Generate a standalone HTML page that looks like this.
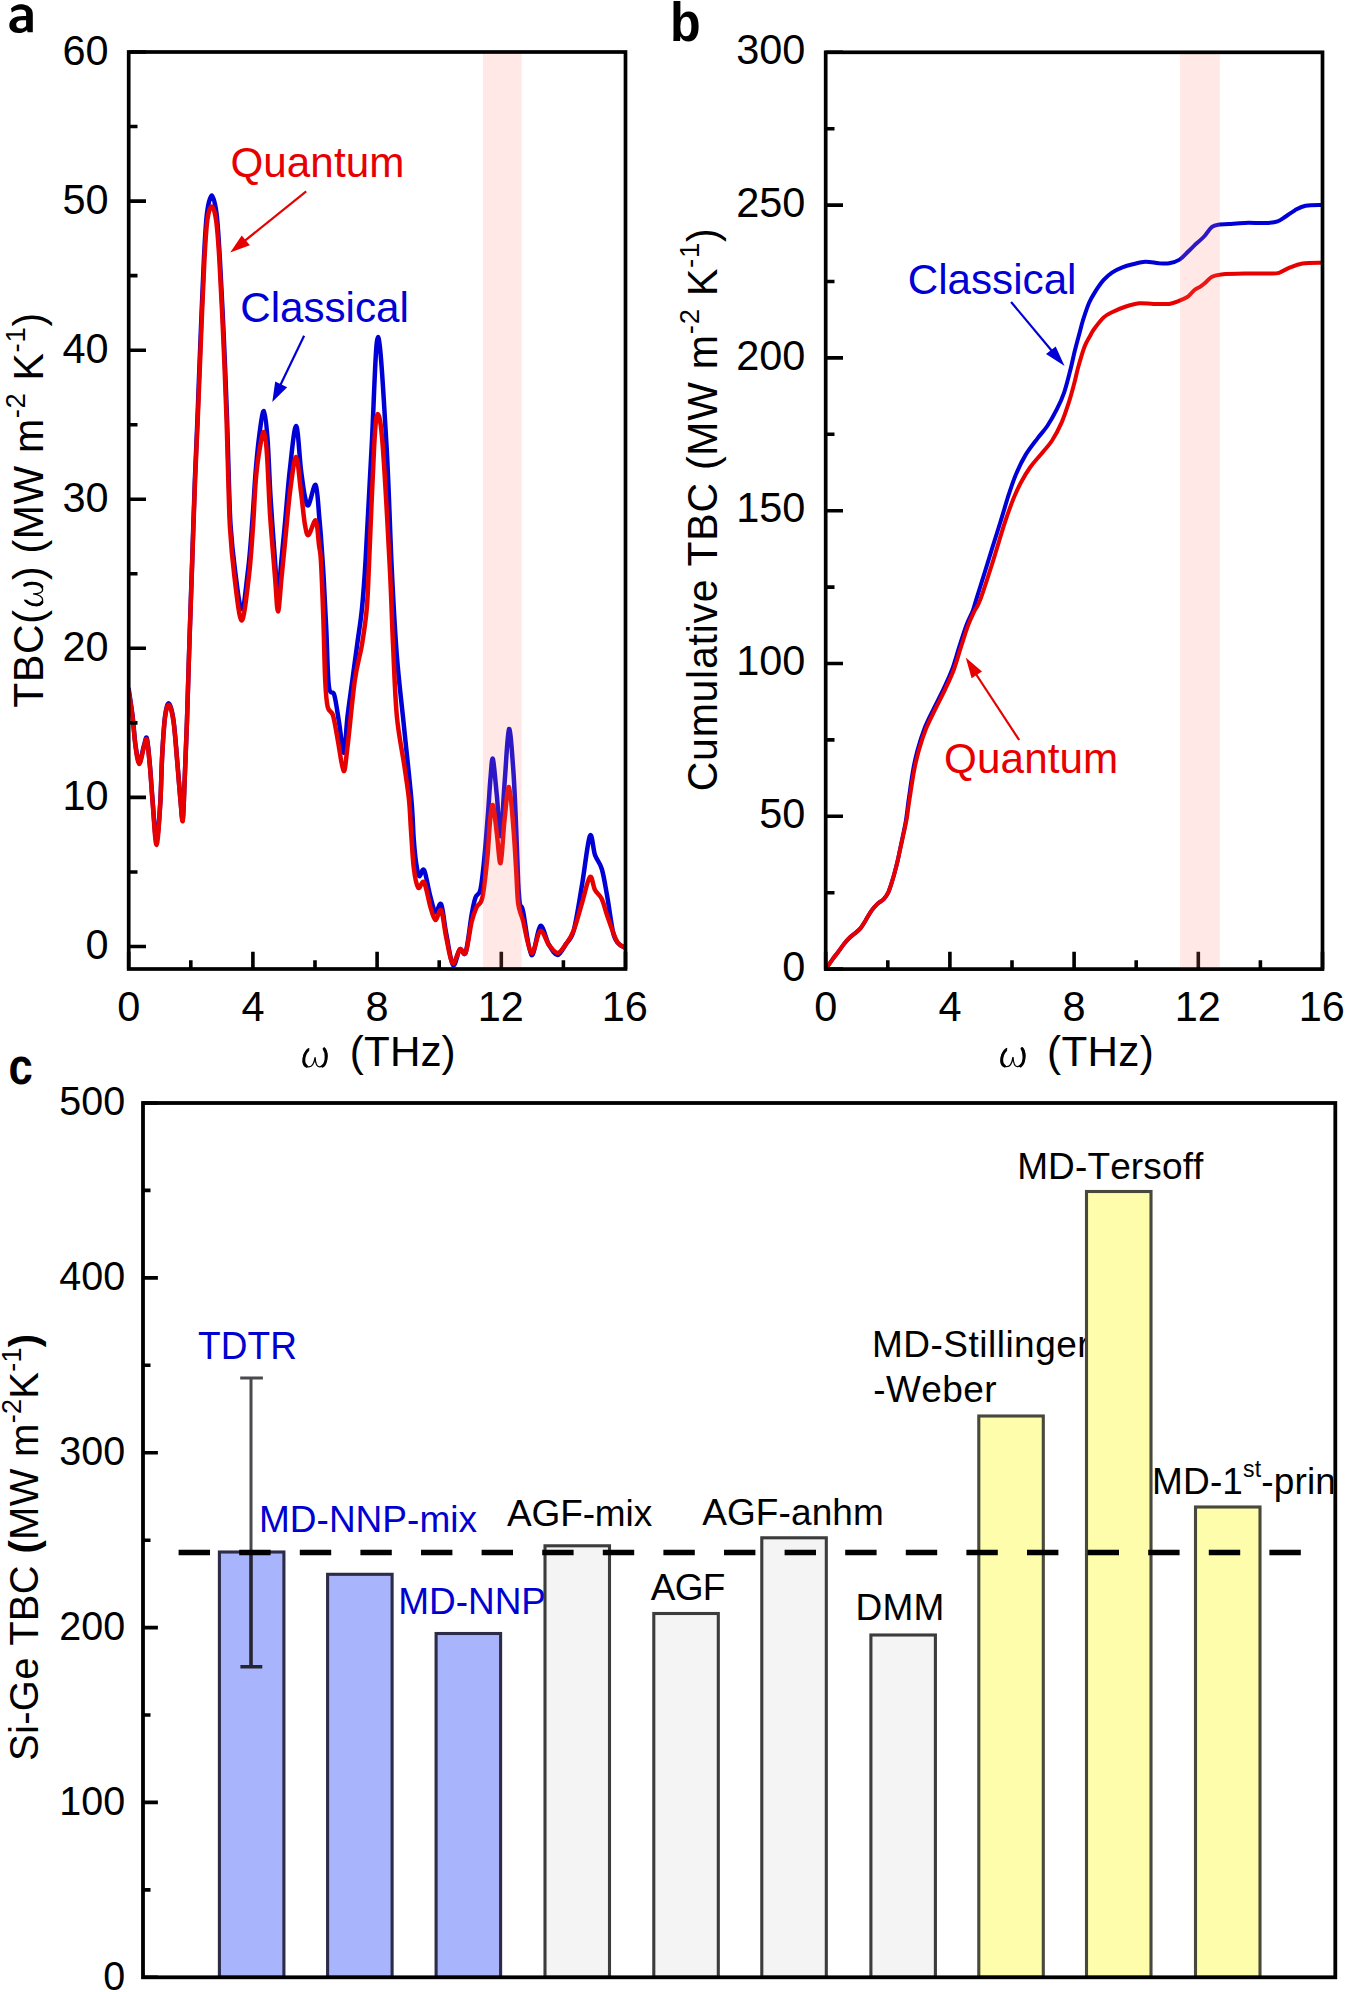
<!DOCTYPE html><html><head><meta charset="utf-8"><style>html,body{margin:0;padding:0;background:#fff;}svg{display:block;font-kerning:none;}text{font-family:"Liberation Sans",sans-serif}</style></head><body>
<svg width="1346" height="1992" viewBox="0 0 1346 1992">
<rect width="1346" height="1992" fill="#fff"/>
<defs><clipPath id="cpa"><rect x="128.7" y="52.0" width="496.8" height="917.0"/></clipPath>
<clipPath id="cpb"><rect x="825.7" y="52.3" width="496.8" height="916.8"/></clipPath>
<clipPath id="cpc"><rect x="143.0" y="1103.0" width="1190.3" height="874.3"/></clipPath></defs>
<g clip-path="url(#cpa)">
<path d="M128.7,689.0 C129.3,693.5 131.5,706.7 132.6,716.0 C133.7,725.3 134.4,737.2 135.5,745.0 C136.6,752.8 137.9,762.5 139.3,762.5 C140.7,762.5 142.8,749.0 144.1,745.0 C145.4,741.0 145.9,735.3 146.9,738.5 C147.9,741.7 148.8,753.4 149.8,764.0 C150.8,774.6 151.6,789.2 152.7,802.0 C153.8,814.8 155.2,840.5 156.5,840.5 C157.8,840.5 159.4,816.3 160.3,802.0 C161.2,787.7 161.4,768.8 162.2,754.5 C163.0,740.2 163.9,725.0 165.0,716.5 C166.1,708.0 167.5,702.8 168.9,703.5 C170.3,704.2 172.2,710.9 173.6,721.0 C175.0,731.1 176.4,751.2 177.5,764.0 C178.6,776.8 179.4,788.2 180.3,797.5 C181.2,806.8 182.0,821.8 182.7,819.5 C183.4,817.2 183.8,800.6 184.5,784.0 C185.2,767.4 186.2,744.1 187.0,720.0 C187.8,695.9 188.6,666.4 189.5,639.6 C190.4,612.8 191.3,586.1 192.2,559.3 C193.1,532.5 194.0,502.2 194.9,479.0 C195.8,455.8 196.5,443.2 197.4,420.0 C198.3,396.8 199.4,366.4 200.5,339.6 C201.6,312.8 202.8,280.2 203.9,259.3 C205.0,238.4 205.6,224.6 206.9,214.0 C208.2,203.4 210.2,195.5 211.8,195.5 C213.4,195.5 215.2,203.4 216.6,214.0 C217.9,224.6 218.7,238.4 219.9,259.3 C221.1,280.2 222.7,312.8 223.9,339.6 C225.1,366.4 226.3,396.8 227.1,420.0 C227.9,443.2 228.2,461.3 228.8,479.0 C229.4,496.7 229.6,510.8 230.6,526.0 C231.6,541.2 233.2,556.2 235.0,570.0 C236.8,583.8 239.5,609.3 241.7,609.0 C243.9,608.7 246.5,582.8 248.3,568.0 C250.1,553.2 251.2,535.5 252.4,520.0 C253.6,504.5 254.3,489.0 255.4,475.0 C256.5,461.0 257.8,446.7 259.2,436.0 C260.6,425.3 262.5,410.3 263.9,411.0 C265.3,411.7 266.5,425.2 267.6,440.0 C268.7,454.8 269.4,479.2 270.7,500.0 C272.0,520.8 274.1,548.3 275.3,565.0 C276.5,581.7 277.1,600.0 278.0,600.0 C278.9,600.0 279.9,577.5 281.0,565.0 C282.1,552.5 283.3,540.8 284.8,525.0 C286.3,509.2 287.9,486.5 289.8,470.0 C291.7,453.5 294.2,426.0 296.1,426.0 C298.0,426.0 299.5,458.2 301.0,470.0 C302.5,481.8 303.7,491.2 305.0,497.0 C306.3,502.8 306.8,507.0 308.6,505.0 C310.4,503.0 313.9,482.5 315.7,485.0 C317.5,487.5 318.5,510.0 319.5,520.0 C320.5,530.0 320.8,535.0 321.5,545.0 C322.2,555.0 323.0,565.5 323.8,580.0 C324.6,594.5 325.5,614.2 326.4,632.0 C327.2,649.8 327.6,676.0 328.9,686.5 C330.2,697.0 332.6,689.0 334.3,695.0 C336.0,701.0 337.5,713.1 339.1,722.7 C340.7,732.3 342.5,753.8 343.9,752.8 C345.3,751.8 346.1,728.6 347.5,716.6 C348.9,704.6 350.7,692.5 352.3,680.5 C353.9,668.5 355.6,656.3 357.2,644.3 C358.8,632.2 360.6,622.2 362.0,608.2 C363.4,594.2 364.0,587.1 365.6,560.0 C367.2,532.9 369.6,482.7 371.7,445.5 C373.8,408.3 375.5,337.0 378.0,337.0 C380.5,337.0 384.2,406.7 386.5,445.5 C388.8,484.3 390.1,534.6 391.8,569.7 C393.5,604.9 394.8,629.9 396.9,656.4 C399.0,682.9 401.8,704.8 404.2,728.7 C406.6,752.6 409.8,781.2 411.4,799.8 C413.0,818.3 413.0,829.6 413.8,840.0 C414.6,850.4 415.1,856.0 416.0,862.0 C416.9,868.0 417.8,874.7 419.2,876.0 C420.6,877.3 422.3,866.8 424.1,870.0 C425.9,873.2 428.1,888.0 430.0,895.0 C431.9,902.0 433.5,910.6 435.4,912.2 C437.3,913.8 439.4,900.9 441.2,904.4 C443.0,907.9 444.1,922.9 446.1,933.0 C448.1,943.1 450.7,962.3 453.0,965.0 C455.3,967.7 457.7,951.5 459.8,949.4 C461.9,947.3 463.7,958.1 465.7,952.4 C467.7,946.7 470.0,924.1 471.6,915.0 C473.2,905.9 474.0,901.7 475.5,897.5 C477.0,893.3 478.9,896.2 480.4,889.7 C481.9,883.2 483.0,871.8 484.3,858.4 C485.6,845.0 487.3,822.8 488.3,809.4 C489.3,796.0 489.7,786.4 490.5,778.0 C491.3,769.6 491.8,756.2 492.9,759.0 C493.9,761.8 495.5,782.2 496.8,795.0 C498.1,807.8 499.3,838.5 500.6,836.0 C501.9,833.5 503.4,797.8 504.8,780.0 C506.2,762.2 507.6,730.7 509.0,729.0 C510.4,727.3 512.1,753.8 513.3,770.0 C514.5,786.2 515.3,807.7 516.1,826.5 C516.9,845.3 517.6,869.6 518.2,882.7 C518.9,895.8 519.2,900.3 520.0,905.0 C520.8,909.7 521.1,902.7 523.0,911.0 C524.9,919.3 528.6,952.5 531.5,955.0 C534.4,957.5 537.4,927.7 540.3,926.0 C543.2,924.3 546.1,940.2 549.0,945.0 C551.9,949.8 554.8,955.2 557.6,955.0 C560.4,954.8 563.3,948.1 566.0,944.0 C568.7,939.9 571.0,940.3 573.7,930.5 C576.4,920.7 579.3,900.8 582.0,885.0 C584.7,869.2 587.7,841.0 589.9,836.0 C592.1,831.0 593.0,849.5 595.0,855.0 C597.0,860.5 599.8,862.3 601.8,869.0 C603.8,875.7 605.1,884.5 607.0,895.0 C608.9,905.5 611.2,924.0 613.0,932.0 C614.8,940.0 616.1,940.4 618.0,943.0 C619.9,945.6 623.2,946.7 624.3,947.4" fill="none" stroke="#0000d6" stroke-width="4.5" stroke-linejoin="round" stroke-linecap="round"/>
<path d="M128.7,691.0 C129.3,695.5 131.5,708.5 132.6,717.7 C133.7,726.9 134.4,738.6 135.5,746.3 C136.6,754.0 137.9,764.0 139.3,764.0 C140.7,764.0 142.8,750.3 144.1,746.3 C145.4,742.3 145.9,736.8 146.9,740.0 C147.9,743.2 148.8,754.8 149.8,765.4 C150.8,776.0 151.6,790.2 152.7,803.5 C153.8,816.8 155.2,845.0 156.5,845.0 C157.8,845.0 159.4,818.4 160.3,803.5 C161.2,788.6 161.4,770.1 162.2,755.8 C163.0,741.5 163.9,726.2 165.0,717.7 C166.1,709.2 167.5,704.2 168.9,705.0 C170.3,705.8 172.2,712.4 173.6,722.5 C175.0,732.6 176.4,752.7 177.5,765.4 C178.6,778.1 179.4,789.4 180.3,798.7 C181.2,808.0 182.0,823.3 182.7,821.0 C183.4,818.7 183.8,801.7 184.5,785.0 C185.2,768.3 186.2,745.1 187.0,721.0 C187.8,696.9 188.6,667.4 189.5,640.6 C190.4,613.8 191.4,587.1 192.3,560.3 C193.2,533.5 194.2,503.2 195.1,480.0 C196.0,456.8 196.7,444.2 197.7,421.0 C198.7,397.8 199.8,367.4 200.9,340.6 C202.0,313.8 203.3,280.4 204.4,260.3 C205.5,240.2 206.1,229.2 207.3,220.2 C208.5,211.2 210.3,206.5 211.8,206.5 C213.3,206.5 214.8,211.2 216.1,220.2 C217.4,229.2 218.2,240.2 219.4,260.3 C220.6,280.4 222.2,313.8 223.4,340.6 C224.6,367.4 225.8,397.8 226.6,421.0 C227.4,444.2 227.7,462.2 228.3,480.0 C228.9,497.8 229.0,511.9 230.0,528.0 C231.0,544.1 232.5,561.0 234.4,576.4 C236.3,591.8 239.3,620.5 241.7,620.5 C244.1,620.5 247.0,591.8 248.9,576.4 C250.8,561.0 251.8,544.1 252.9,528.0 C254.1,511.9 254.7,493.0 255.8,480.0 C256.9,467.0 258.1,458.0 259.5,450.0 C260.9,442.0 262.6,431.2 263.9,432.0 C265.1,432.8 266.0,441.1 267.0,455.0 C268.0,468.9 268.8,495.0 270.1,515.5 C271.5,536.0 273.8,562.0 275.1,578.0 C276.4,594.0 276.9,611.5 278.0,611.5 C279.1,611.5 280.3,589.8 281.5,578.0 C282.7,566.2 283.8,555.2 285.2,540.6 C286.6,526.0 288.4,504.3 290.2,490.4 C292.0,476.5 294.3,456.7 296.1,457.0 C297.9,457.3 299.5,480.7 301.0,492.0 C302.5,503.3 303.7,517.8 305.0,525.0 C306.3,532.2 306.8,535.8 308.6,535.0 C310.4,534.2 314.0,518.8 315.7,520.5 C317.4,522.2 318.1,538.1 319.0,545.0 C319.9,551.9 320.3,549.5 321.0,562.0 C321.7,574.5 322.7,600.5 323.4,620.2 C324.1,640.0 324.5,666.0 325.2,680.5 C325.9,695.0 326.4,701.2 327.7,707.0 C329.0,712.8 331.3,709.8 333.0,715.4 C334.7,721.0 336.1,731.4 337.9,740.7 C339.7,750.0 342.0,770.0 343.6,771.0 C345.2,772.0 345.6,761.8 347.5,746.7 C349.4,731.6 352.4,697.6 354.8,680.5 C357.2,663.4 360.0,656.3 362.0,644.3 C364.0,632.2 365.6,622.2 366.8,608.2 C368.0,594.2 368.0,587.1 369.2,560.0 C370.4,532.9 372.8,469.8 374.2,445.5 C375.6,421.2 376.3,414.0 377.7,414.0 C379.1,414.0 380.7,419.6 382.7,445.5 C384.7,471.4 388.2,536.6 389.9,569.7 C391.6,602.8 391.8,619.5 393.0,644.0 C394.2,668.5 395.0,696.5 396.9,716.6 C398.8,736.7 402.2,750.9 404.2,764.8 C406.2,778.7 407.9,789.1 409.0,799.8 C410.1,810.5 410.1,817.6 410.9,829.0 C411.7,840.4 412.6,858.3 413.8,868.1 C415.0,877.9 416.5,885.3 418.2,887.7 C419.9,890.1 422.1,879.2 424.1,882.5 C426.2,885.8 428.6,901.0 430.5,907.3 C432.4,913.5 433.6,919.5 435.4,920.0 C437.2,920.5 439.4,907.5 441.2,910.3 C443.0,913.1 444.2,927.9 446.1,936.7 C448.0,945.5 450.2,961.1 452.5,963.2 C454.8,965.3 457.6,951.2 459.8,949.4 C462.0,947.6 463.7,957.0 465.7,952.4 C467.7,947.8 469.8,929.5 471.6,922.0 C473.4,914.5 474.7,911.4 476.5,907.3 C478.3,903.2 480.6,905.6 482.4,897.5 C484.2,889.4 486.0,871.4 487.3,858.4 C488.6,845.4 489.2,828.0 490.2,819.2 C491.2,810.4 492.0,802.9 493.1,805.5 C494.2,808.1 495.8,825.4 497.0,835.0 C498.2,844.6 499.4,865.5 500.6,863.0 C501.9,860.5 503.1,832.7 504.5,820.0 C505.9,807.3 507.5,785.9 509.0,787.0 C510.5,788.1 512.1,812.9 513.3,826.5 C514.5,840.1 515.3,855.8 516.1,868.7 C516.9,881.6 517.1,895.1 518.2,903.8 C519.4,912.5 520.8,912.5 523.0,920.7 C525.2,928.9 528.6,951.3 531.5,953.0 C534.4,954.7 537.4,932.3 540.3,931.0 C543.2,929.7 546.1,941.3 549.0,945.0 C551.9,948.7 554.8,953.2 557.6,953.0 C560.4,952.8 563.3,947.8 566.0,944.0 C568.7,940.2 571.0,937.3 573.7,930.5 C576.4,923.7 579.3,911.9 582.0,903.0 C584.7,894.1 587.7,879.2 589.9,877.0 C592.1,874.8 593.0,886.3 595.0,890.0 C597.0,893.7 599.8,894.8 601.8,899.0 C603.8,903.2 605.1,909.5 607.0,915.0 C608.9,920.5 611.2,927.3 613.0,932.0 C614.8,936.7 616.1,940.4 618.0,943.0 C619.9,945.6 623.2,946.7 624.3,947.4" fill="none" stroke="#e60000" stroke-width="4.5" stroke-linejoin="round" stroke-linecap="round"/>
</g>
<path d="M128.7,946.5h17.3 M128.7,872.0h8.8 M128.7,797.4h17.3 M128.7,722.9h8.8 M128.7,648.3h17.3 M128.7,573.8h8.8 M128.7,499.2h17.3 M128.7,424.7h8.8 M128.7,350.2h17.3 M128.7,275.6h8.8 M128.7,201.1h17.3 M128.7,126.5h8.8 M128.7,52.0h17.3 M128.7,969.0v-17.3 M190.8,969.0v-8.8 M252.9,969.0v-17.3 M315.0,969.0v-8.8 M377.1,969.0v-17.3 M439.2,969.0v-8.8 M501.3,969.0v-17.3 M563.4,969.0v-8.8 M625.5,969.0v-17.3" stroke="#000" stroke-width="3.6" fill="none"/>
<rect x="482.9" y="53.8" width="38.8" height="913.4" fill="rgb(255,128,117)" fill-opacity="0.18"/>
<rect x="128.7" y="52.0" width="496.8" height="917.0" fill="none" stroke="#000" stroke-width="3.7"/>
<g transform="translate(85.54,959.30) scale(1.000,1.045)"><text x="0" y="0" font-size="41.50" font-family="Liberation Sans" fill="#000">0</text></g>
<g transform="translate(62.46,810.22) scale(1.000,1.045)"><text x="0" y="0" font-size="41.50" font-family="Liberation Sans" fill="#000">10</text></g>
<g transform="translate(62.46,661.13) scale(1.000,1.045)"><text x="0" y="0" font-size="41.50" font-family="Liberation Sans" fill="#000">20</text></g>
<g transform="translate(62.46,512.05) scale(1.000,1.045)"><text x="0" y="0" font-size="41.50" font-family="Liberation Sans" fill="#000">30</text></g>
<g transform="translate(62.46,362.97) scale(1.000,1.045)"><text x="0" y="0" font-size="41.50" font-family="Liberation Sans" fill="#000">40</text></g>
<g transform="translate(62.46,213.88) scale(1.000,1.045)"><text x="0" y="0" font-size="41.50" font-family="Liberation Sans" fill="#000">50</text></g>
<g transform="translate(62.46,64.80) scale(1.000,1.045)"><text x="0" y="0" font-size="41.50" font-family="Liberation Sans" fill="#000">60</text></g>
<g transform="translate(117.16,1021.00) scale(1.000,1.045)"><text x="0" y="0" font-size="41.50" font-family="Liberation Sans" fill="#000">0</text></g>
<g transform="translate(241.49,1021.00) scale(1.000,1.045)"><text x="0" y="0" font-size="41.50" font-family="Liberation Sans" fill="#000">4</text></g>
<g transform="translate(365.56,1021.00) scale(1.000,1.045)"><text x="0" y="0" font-size="41.50" font-family="Liberation Sans" fill="#000">8</text></g>
<g transform="translate(477.68,1021.00) scale(1.000,1.045)"><text x="0" y="0" font-size="41.50" font-family="Liberation Sans" fill="#000">12</text></g>
<g transform="translate(601.75,1021.00) scale(1.000,1.045)"><text x="0" y="0" font-size="41.50" font-family="Liberation Sans" fill="#000">16</text></g>
<g transform="translate(301.55,1047.00) scale(0.9672,0.9762)" fill="none" stroke="#000" stroke-linecap="round"><path d="M7.5,1.8C3.5,5 1.5,10 1.6,14.5C1.7,18.5 4.5,20.3 7.6,20.3C10.8,20.3 13.0,17 14.0,10.5C14.2,14.5 14.8,20.3 18.6,20.3C23,20.3 26.2,15 26.3,9.5C26.4,5 25,2.5 23.6,1.2" stroke-width="1.35"/><path d="M6.6,3.2C3.8,6 2.4,10 2.4,14C2.4,17 3.4,18.8 5.2,19.7" stroke-width="2.9"/><path d="M21.8,19.6C24.2,18 25.4,14 25.4,10C25.4,6.5 24.6,3.6 23.3,1.9" stroke-width="3.0"/></g>
<g transform="translate(0,1066.00) scale(1,1.020)"><text x="349.88" y="0.00" font-size="42.20" letter-spacing="0.094" font-family="Liberation Sans" fill="#000" xml:space="preserve">(THz)</text></g>
<g transform="translate(43.00,706.90) rotate(-90)"><g transform="translate(0,0.00) scale(1,1.030)"><text x="-0.92" y="0.00" font-size="41.00" letter-spacing="0.660" font-family="Liberation Sans" fill="#000" xml:space="preserve">TBC(</text><g transform="translate(99.84,-19.50) scale(0.9343,0.9429)" fill="none" stroke="#000" stroke-linecap="round"><path d="M7.5,1.8C3.5,5 1.5,10 1.6,14.5C1.7,18.5 4.5,20.3 7.6,20.3C10.8,20.3 13.0,17 14.0,10.5C14.2,14.5 14.8,20.3 18.6,20.3C23,20.3 26.2,15 26.3,9.5C26.4,5 25,2.5 23.6,1.2" stroke-width="1.35"/><path d="M6.6,3.2C3.8,6 2.4,10 2.4,14C2.4,17 3.4,18.8 5.2,19.7" stroke-width="2.9"/><path d="M21.8,19.6C24.2,18 25.4,14 25.4,10C25.4,6.5 24.6,3.6 23.3,1.9" stroke-width="3.0"/></g><text x="126.98" y="0.00" font-size="41.00" letter-spacing="0.660" font-family="Liberation Sans" fill="#000" xml:space="preserve">) (MW m</text><text x="288.69" y="-17.50" font-size="27.50" letter-spacing="0.660" font-family="Liberation Sans" fill="#000" xml:space="preserve">-2</text><text x="314.46" y="0.00" font-size="41.00" letter-spacing="0.660" font-family="Liberation Sans" fill="#000" xml:space="preserve"> K</text><text x="354.52" y="-17.50" font-size="27.50" letter-spacing="0.660" font-family="Liberation Sans" fill="#000" xml:space="preserve">-1</text><text x="380.29" y="0.00" font-size="41.00" letter-spacing="0.660" font-family="Liberation Sans" fill="#000" xml:space="preserve">)</text></g></g>
<g transform="translate(0,176.60) scale(1,1.020)"><text x="230.40" y="0.00" font-size="42.20" letter-spacing="0.083" font-family="Liberation Sans" fill="#e60000" xml:space="preserve">Quantum</text></g>
<line x1="306.2" y1="191.3" x2="240" y2="244.6" stroke="#e60000" stroke-width="2.2"/>
<path d="M230.2,252.6 L241.7,235.4 L249.9,245.2 Z" fill="#e60000"/>
<g transform="translate(0,322.30) scale(1,1.020)"><text x="240.36" y="0.00" font-size="42.20" letter-spacing="-0.047" font-family="Liberation Sans" fill="#0000d6" xml:space="preserve">Classical</text></g>
<line x1="304.1" y1="335.8" x2="278" y2="390" stroke="#0000d6" stroke-width="2.2"/>
<path d="M272.3,402.1 L275.2,381.6 L287.2,387.3 Z" fill="#0000d6"/>
<path fill-rule="evenodd" fill="#000" d="M11.0,8.6C13.5,6.0 17.5,4.2 20.6,4.2C26.5,4.2 30.2,6.5 32.0,10.0C32.7,11.5 32.8,13.2 32.8,15L32.8,32.2L27.6,32.2L27.1,29.9C25.0,31.8 22.0,33.0 18.5,33.0C13.0,33.0 9.3,30.0 9.3,25.3C9.3,19.0 15.0,15.9 23.0,15.9L26.1,15.9L26.1,13.5C26.1,10.8 24.2,9.6 20.8,9.6C17.5,9.6 14.5,10.6 11.8,12.5ZM26.1,20.3L22.5,20.3C18.8,20.3 16.2,21.8 16.2,24.5C16.2,27.0 18.0,28.6 20.6,28.6C23.0,28.6 25.0,27.3 26.1,25.7Z"/>
<g clip-path="url(#cpb)">
<path d="M825.7,969.1 C826.0,968.7 826.2,968.4 827.3,966.8 C828.4,965.2 830.8,961.7 832.5,959.3 C834.2,956.9 835.9,955.0 837.8,952.5 C839.7,950.0 841.8,946.7 843.8,944.2 C845.8,941.7 848.0,939.2 849.8,937.5 C851.6,935.8 852.6,935.2 854.4,933.7 C856.2,932.2 858.5,930.6 860.4,928.4 C862.3,926.1 863.8,923.2 865.7,920.2 C867.6,917.2 869.7,913.2 871.7,910.4 C873.7,907.6 875.7,905.5 877.7,903.6 C879.7,901.7 881.9,901.0 883.7,899.1 C885.5,897.2 886.9,895.2 888.3,892.3 C889.7,889.4 890.9,885.2 892.0,881.7 C893.1,878.2 894.0,875.0 895.0,871.2 C896.0,867.5 897.1,863.0 898.0,859.2 C898.8,855.4 899.3,852.6 900.2,848.6 C901.0,844.6 902.0,839.9 903.0,835.1 C904.0,830.3 905.1,825.7 906.0,820.0 C906.9,814.3 907.4,809.0 908.5,800.8 C909.7,792.6 911.5,779.1 913.0,770.7 C914.4,762.3 915.6,757.2 917.5,750.2 C919.4,743.2 921.7,735.6 924.4,728.6 C927.2,721.6 930.8,714.7 934.0,708.1 C937.2,701.5 940.6,695.2 943.6,688.8 C946.6,682.4 949.5,676.5 952.1,669.5 C954.7,662.5 956.9,654.0 959.3,646.6 C961.7,639.2 964.3,630.8 966.5,624.9 C968.7,619.0 971.1,615.2 972.7,611.0 C974.3,606.8 973.6,608.1 976.2,599.6 C978.9,591.1 984.6,572.7 988.6,559.8 C992.6,546.9 997.0,532.9 1000.4,522.0 C1003.8,511.1 1006.1,502.7 1008.7,494.7 C1011.3,486.7 1013.2,480.8 1016.0,474.2 C1018.8,467.6 1022.0,460.9 1025.6,454.9 C1029.2,448.9 1034.1,442.9 1037.7,438.1 C1041.3,433.3 1044.1,430.8 1047.3,426.0 C1050.5,421.2 1054.1,414.8 1056.9,409.2 C1059.7,403.6 1062.0,398.7 1064.2,392.3 C1066.4,385.9 1068.4,377.6 1070.2,370.6 C1072.0,363.6 1073.4,356.5 1075.0,350.1 C1076.6,343.7 1078.5,336.9 1079.8,332.0 C1081.1,327.1 1081.4,325.4 1082.9,320.5 C1084.5,315.6 1087.0,307.7 1089.1,302.8 C1091.2,297.9 1093.0,295.2 1095.4,291.4 C1097.8,287.6 1100.9,283.0 1103.7,279.9 C1106.5,276.8 1108.9,274.7 1112.0,272.6 C1115.1,270.5 1118.9,268.8 1122.4,267.4 C1125.9,266.0 1129.0,265.2 1132.8,264.3 C1136.6,263.4 1141.0,261.9 1145.3,261.7 C1149.6,261.5 1154.8,263.0 1158.8,263.3 C1162.8,263.6 1165.7,263.9 1169.2,263.3 C1172.7,262.7 1176.5,261.5 1179.6,259.6 C1182.7,257.7 1185.5,254.1 1187.9,251.8 C1190.3,249.5 1192.2,247.5 1194.2,245.6 C1196.2,243.7 1198.2,242.1 1200.0,240.4 C1201.8,238.7 1203.0,237.8 1205.0,235.5 C1207.0,233.2 1209.5,228.6 1212.0,226.8 C1214.5,225.0 1216.9,225.0 1219.8,224.5 C1222.7,224.0 1225.0,224.3 1229.2,224.0 C1233.4,223.7 1238.3,223.1 1244.8,222.9 C1251.3,222.7 1262.7,223.2 1268.2,222.9 C1273.7,222.6 1274.7,222.3 1277.6,221.3 C1280.5,220.3 1282.6,218.5 1285.4,216.7 C1288.2,214.9 1291.3,212.2 1294.7,210.4 C1298.1,208.6 1301.0,206.6 1305.6,205.7 C1310.2,204.8 1319.7,205.1 1322.5,205.0" fill="none" stroke="#0000d6" stroke-width="4.0" stroke-linejoin="round" stroke-linecap="round"/>
<path d="M825.7,969.1 C826.0,968.7 826.2,968.4 827.3,966.8 C828.4,965.2 830.8,961.7 832.5,959.3 C834.2,956.9 835.9,955.0 837.8,952.5 C839.7,950.0 841.8,946.7 843.8,944.2 C845.8,941.7 848.0,939.2 849.8,937.5 C851.6,935.8 852.6,935.2 854.4,933.7 C856.2,932.2 858.5,930.6 860.4,928.4 C862.3,926.1 863.8,923.2 865.7,920.2 C867.6,917.2 869.7,913.2 871.7,910.4 C873.7,907.6 875.7,905.5 877.7,903.6 C879.7,901.7 881.9,901.0 883.7,899.1 C885.5,897.2 886.9,895.2 888.3,892.3 C889.7,889.4 890.9,885.2 892.0,881.7 C893.1,878.2 894.0,875.0 895.0,871.2 C896.0,867.5 897.1,863.0 898.0,859.2 C898.9,855.4 899.4,852.6 900.3,848.6 C901.2,844.6 902.3,839.9 903.3,835.1 C904.3,830.3 905.5,825.7 906.5,820.0 C907.5,814.3 908.0,809.0 909.3,800.8 C910.6,792.6 912.5,779.1 914.1,770.7 C915.7,762.3 916.9,757.2 918.9,750.2 C920.9,743.2 923.3,735.6 926.1,728.6 C928.9,721.6 932.6,714.7 935.8,708.1 C939.0,701.5 942.4,695.2 945.4,688.8 C948.4,682.4 951.3,676.5 953.9,669.5 C956.5,662.5 958.7,654.0 961.1,646.6 C963.5,639.2 966.1,630.8 968.3,624.9 C970.5,619.0 972.5,615.2 974.5,611.0 C976.5,606.8 977.1,608.1 980.3,599.6 C983.4,591.1 989.3,572.7 993.4,559.8 C997.5,546.9 1001.6,532.2 1005.0,522.0 C1008.4,511.8 1011.0,504.9 1013.6,498.3 C1016.2,491.8 1018.0,487.9 1020.8,482.7 C1023.6,477.5 1026.8,472.0 1030.4,467.0 C1034.0,462.0 1038.9,456.9 1042.5,452.5 C1046.1,448.1 1048.9,445.5 1052.1,440.5 C1055.3,435.5 1058.9,428.8 1061.7,422.4 C1064.5,416.0 1067.0,408.1 1069.0,401.9 C1071.0,395.7 1072.2,391.1 1073.8,385.1 C1075.4,379.1 1076.8,372.2 1078.6,365.8 C1080.4,359.4 1082.7,351.5 1084.6,346.5 C1086.5,341.5 1088.6,338.6 1090.2,335.7 C1091.8,332.8 1092.0,331.9 1094.3,328.8 C1096.5,325.8 1100.8,320.2 1103.7,317.4 C1106.7,314.6 1108.5,313.9 1112.0,312.2 C1115.5,310.5 1120.0,308.5 1124.5,307.0 C1129.0,305.5 1134.2,303.8 1139.0,303.3 C1143.8,302.8 1148.6,303.8 1153.6,303.9 C1158.6,304.0 1164.9,304.4 1169.2,303.9 C1173.5,303.4 1176.5,301.9 1179.6,300.7 C1182.7,299.5 1185.5,298.3 1187.9,296.6 C1190.3,294.9 1192.2,291.9 1194.2,290.3 C1196.2,288.7 1198.2,288.0 1200.0,286.8 C1201.8,285.6 1203.0,284.7 1205.0,283.0 C1207.0,281.3 1209.3,278.1 1212.0,276.7 C1214.7,275.3 1215.9,274.9 1221.4,274.4 C1226.9,273.9 1236.7,273.7 1244.8,273.6 C1252.9,273.5 1264.1,273.7 1269.8,273.6 C1275.5,273.5 1276.0,273.7 1279.1,272.8 C1282.2,271.9 1284.6,269.7 1288.5,268.1 C1292.4,266.6 1296.8,264.4 1302.5,263.5 C1308.2,262.6 1319.2,262.8 1322.5,262.7" fill="none" stroke="#e60000" stroke-width="4.0" stroke-linejoin="round" stroke-linecap="round"/>
</g>
<path d="M825.7,969.1h17.3 M825.7,892.7h8.8 M825.7,816.3h17.3 M825.7,739.9h8.8 M825.7,663.5h17.3 M825.7,587.1h8.8 M825.7,510.7h17.3 M825.7,434.3h8.8 M825.7,357.9h17.3 M825.7,281.5h8.8 M825.7,205.1h17.3 M825.7,128.7h8.8 M825.7,52.3h17.3 M825.7,969.1v-17.3 M887.8,969.1v-8.8 M949.9,969.1v-17.3 M1012.0,969.1v-8.8 M1074.1,969.1v-17.3 M1136.2,969.1v-8.8 M1198.3,969.1v-17.3 M1260.4,969.1v-8.8 M1322.5,969.1v-17.3" stroke="#000" stroke-width="3.6" fill="none"/>
<rect x="1180.1" y="54.1" width="39.7" height="913.2" fill="rgb(255,128,117)" fill-opacity="0.18"/>
<rect x="825.7" y="52.3" width="496.8" height="916.8" fill="none" stroke="#000" stroke-width="3.7"/>
<g transform="translate(782.34,980.70) scale(1.000,1.045)"><text x="0" y="0" font-size="41.50" font-family="Liberation Sans" fill="#000">0</text></g>
<g transform="translate(759.26,827.90) scale(1.000,1.045)"><text x="0" y="0" font-size="41.50" font-family="Liberation Sans" fill="#000">50</text></g>
<g transform="translate(736.18,675.10) scale(1.000,1.045)"><text x="0" y="0" font-size="41.50" font-family="Liberation Sans" fill="#000">100</text></g>
<g transform="translate(736.18,522.30) scale(1.000,1.045)"><text x="0" y="0" font-size="41.50" font-family="Liberation Sans" fill="#000">150</text></g>
<g transform="translate(736.18,369.50) scale(1.000,1.045)"><text x="0" y="0" font-size="41.50" font-family="Liberation Sans" fill="#000">200</text></g>
<g transform="translate(736.18,216.70) scale(1.000,1.045)"><text x="0" y="0" font-size="41.50" font-family="Liberation Sans" fill="#000">250</text></g>
<g transform="translate(736.18,63.90) scale(1.000,1.045)"><text x="0" y="0" font-size="41.50" font-family="Liberation Sans" fill="#000">300</text></g>
<g transform="translate(814.16,1021.00) scale(1.000,1.045)"><text x="0" y="0" font-size="41.50" font-family="Liberation Sans" fill="#000">0</text></g>
<g transform="translate(938.49,1021.00) scale(1.000,1.045)"><text x="0" y="0" font-size="41.50" font-family="Liberation Sans" fill="#000">4</text></g>
<g transform="translate(1062.56,1021.00) scale(1.000,1.045)"><text x="0" y="0" font-size="41.50" font-family="Liberation Sans" fill="#000">8</text></g>
<g transform="translate(1174.68,1021.00) scale(1.000,1.045)"><text x="0" y="0" font-size="41.50" font-family="Liberation Sans" fill="#000">12</text></g>
<g transform="translate(1298.75,1021.00) scale(1.000,1.045)"><text x="0" y="0" font-size="41.50" font-family="Liberation Sans" fill="#000">16</text></g>
<g transform="translate(999.45,1046.80) scale(0.9672,0.9762)" fill="none" stroke="#000" stroke-linecap="round"><path d="M7.5,1.8C3.5,5 1.5,10 1.6,14.5C1.7,18.5 4.5,20.3 7.6,20.3C10.8,20.3 13.0,17 14.0,10.5C14.2,14.5 14.8,20.3 18.6,20.3C23,20.3 26.2,15 26.3,9.5C26.4,5 25,2.5 23.6,1.2" stroke-width="1.35"/><path d="M6.6,3.2C3.8,6 2.4,10 2.4,14C2.4,17 3.4,18.8 5.2,19.7" stroke-width="2.9"/><path d="M21.8,19.6C24.2,18 25.4,14 25.4,10C25.4,6.5 24.6,3.6 23.3,1.9" stroke-width="3.0"/></g>
<g transform="translate(0,1066.00) scale(1,1.020)"><text x="1046.98" y="0.00" font-size="42.20" letter-spacing="0.369" font-family="Liberation Sans" fill="#000" xml:space="preserve">(THz)</text></g>
<g transform="translate(717.40,789.20) rotate(-90)"><g transform="translate(0,0.00) scale(1,1.030)"><text x="-2.08" y="0.00" font-size="41.00" letter-spacing="0.762" font-family="Liberation Sans" fill="#000" xml:space="preserve">Cumulative TBC (MW m</text><text x="455.07" y="-17.50" font-size="27.50" letter-spacing="0.762" font-family="Liberation Sans" fill="#000" xml:space="preserve">-2</text><text x="481.05" y="0.00" font-size="41.00" letter-spacing="0.762" font-family="Liberation Sans" fill="#000" xml:space="preserve"> K</text><text x="521.31" y="-17.50" font-size="27.50" letter-spacing="0.762" font-family="Liberation Sans" fill="#000" xml:space="preserve">-1</text><text x="547.29" y="0.00" font-size="41.00" letter-spacing="0.762" font-family="Liberation Sans" fill="#000" xml:space="preserve">)</text></g></g>
<g transform="translate(0,294.30) scale(1,1.020)"><text x="907.66" y="0.00" font-size="42.20" letter-spacing="0.003" font-family="Liberation Sans" fill="#0000d6" xml:space="preserve">Classical</text></g>
<line x1="1011.1" y1="302" x2="1057" y2="357" stroke="#0000d6" stroke-width="2.2"/>
<path d="M1064.6,365.9 L1046,354 L1055.7,346.6 Z" fill="#0000d6"/>
<g transform="translate(0,773.40) scale(1,1.020)"><text x="944.10" y="0.00" font-size="42.20" letter-spacing="0.100" font-family="Liberation Sans" fill="#e60000" xml:space="preserve">Quantum</text></g>
<line x1="1019.2" y1="740" x2="970" y2="665" stroke="#e60000" stroke-width="2.2"/>
<path d="M965.7,657.5 L971.6,678.3 L982,671.6 Z" fill="#e60000"/>
<g transform="translate(670.09,40.60) scale(0.905,1)"><text x="0" y="0" font-size="55.50" font-family="Liberation Sans" font-weight="bold">b</text></g>
<g clip-path="url(#cpc)">
<g transform="translate(0,1358.90) scale(1,1.030)"><text x="198.07" y="0.00" font-size="37.00" letter-spacing="0.102" font-family="Liberation Sans" fill="#0000d0" xml:space="preserve">TDTR</text></g>
<g transform="translate(0,1532.30) scale(1,1.000)"><text x="258.96" y="0.00" font-size="37.00" letter-spacing="0.021" font-family="Liberation Sans" fill="#0000d0" xml:space="preserve">MD-NNP-mix</text></g>
<g transform="translate(0,1613.90) scale(1,1.000)"><text x="398.36" y="0.00" font-size="37.00" letter-spacing="-0.079" font-family="Liberation Sans" fill="#0000d0" xml:space="preserve">MD-NNP</text></g>
<g transform="translate(0,1525.50) scale(1,1.000)"><text x="506.93" y="0.00" font-size="37.00" letter-spacing="-0.109" font-family="Liberation Sans" fill="#000" xml:space="preserve">AGF-mix</text></g>
<g transform="translate(0,1599.50) scale(1,1.000)"><text x="650.83" y="0.00" font-size="37.00" letter-spacing="-0.803" font-family="Liberation Sans" fill="#000" xml:space="preserve">AGF</text></g>
<g transform="translate(0,1525.30) scale(1,1.000)"><text x="702.23" y="0.00" font-size="37.00" letter-spacing="0.097" font-family="Liberation Sans" fill="#000" xml:space="preserve">AGF-anhm</text></g>
<g transform="translate(0,1619.80) scale(1,1.000)"><text x="855.46" y="0.00" font-size="37.00" letter-spacing="0.254" font-family="Liberation Sans" fill="#000" xml:space="preserve">DMM</text></g>
<g transform="translate(0,1357.00) scale(1,1.000)"><text x="872.06" y="0.00" font-size="37.00" letter-spacing="0.483" font-family="Liberation Sans" fill="#000" xml:space="preserve">MD-Stillinger</text></g>
<g transform="translate(0,1402.00) scale(1,1.000)"><text x="873.16" y="0.00" font-size="37.00" letter-spacing="0.412" font-family="Liberation Sans" fill="#000" xml:space="preserve">-Weber</text></g>
<g transform="translate(0,1178.60) scale(1,1.000)"><text x="1017.16" y="0.00" font-size="37.00" letter-spacing="0.131" font-family="Liberation Sans" fill="#000" xml:space="preserve">MD-Tersoff</text></g>
<g transform="translate(0,1493.80) scale(1,1.000)"><text x="1152.06" y="0.00" font-size="37.00" letter-spacing="0.150" font-family="Liberation Sans" fill="#000" xml:space="preserve">MD-1</text><text x="1243.11" y="-17.00" font-size="23.00" letter-spacing="0.150" font-family="Liberation Sans" fill="#000" xml:space="preserve">st</text><text x="1261.30" y="0.00" font-size="37.00" letter-spacing="0.150" font-family="Liberation Sans" fill="#000" xml:space="preserve">-prin</text></g>
</g>
<rect x="219.4" y="1552.0" width="64.5" height="425.3" fill="#a8b4fc" stroke="#2c2c48" stroke-width="3.1"/>
<rect x="327.6" y="1574.3" width="64.5" height="403.0" fill="#a8b4fc" stroke="#2c2c48" stroke-width="3.1"/>
<rect x="436.1" y="1633.5" width="64.5" height="343.8" fill="#a8b4fc" stroke="#2c2c48" stroke-width="3.1"/>
<rect x="545.0" y="1545.8" width="64.5" height="431.5" fill="#f4f4f4" stroke="#3c3c3c" stroke-width="3.1"/>
<rect x="653.8" y="1613.5" width="64.5" height="363.8" fill="#f4f4f4" stroke="#3c3c3c" stroke-width="3.1"/>
<rect x="761.8" y="1537.8" width="64.5" height="439.5" fill="#f4f4f4" stroke="#3c3c3c" stroke-width="3.1"/>
<rect x="870.9" y="1635.0" width="64.5" height="342.3" fill="#f4f4f4" stroke="#3c3c3c" stroke-width="3.1"/>
<rect x="978.8" y="1416.0" width="64.5" height="561.2" fill="#fefdac" stroke="#48483c" stroke-width="3.1"/>
<rect x="1086.5" y="1191.5" width="64.5" height="785.8" fill="#fefdac" stroke="#48483c" stroke-width="3.1"/>
<rect x="1195.5" y="1507.0" width="64.5" height="470.3" fill="#fefdac" stroke="#48483c" stroke-width="3.1"/>
<path d="M251,1378V1552M240.2,1378H262.9" stroke="#4a4a4e" stroke-width="3.0" fill="none"/>
<path d="M251,1552V1666.7M240.4,1666.7H262.3" stroke="#262633" stroke-width="3.6" fill="none"/>
<line x1="178.6" y1="1552.5" x2="1301" y2="1552.5" stroke="#000" stroke-width="5.6" stroke-dasharray="31.4 29.2"/>
<path d="M143.0,1977.3h14.9 M143.0,1889.9h7.5 M143.0,1802.4h14.9 M143.0,1715.0h7.5 M143.0,1627.6h14.9 M143.0,1540.2h7.5 M143.0,1452.7h14.9 M143.0,1365.3h7.5 M143.0,1277.9h14.9 M143.0,1190.4h7.5 M143.0,1103.0h14.9" stroke="#000" stroke-width="3.6" fill="none"/>
<rect x="143.0" y="1103.0" width="1192.3" height="874.3" fill="none" stroke="#000" stroke-width="3.8"/>
<g transform="translate(103.17,1989.60) scale(1.000,1.045)"><text x="0" y="0" font-size="39.50" font-family="Liberation Sans" fill="#000">0</text></g>
<g transform="translate(59.24,1814.74) scale(1.000,1.045)"><text x="0" y="0" font-size="39.50" font-family="Liberation Sans" fill="#000">100</text></g>
<g transform="translate(59.24,1639.88) scale(1.000,1.045)"><text x="0" y="0" font-size="39.50" font-family="Liberation Sans" fill="#000">200</text></g>
<g transform="translate(59.24,1465.02) scale(1.000,1.045)"><text x="0" y="0" font-size="39.50" font-family="Liberation Sans" fill="#000">300</text></g>
<g transform="translate(59.24,1290.16) scale(1.000,1.045)"><text x="0" y="0" font-size="39.50" font-family="Liberation Sans" fill="#000">400</text></g>
<g transform="translate(59.24,1115.30) scale(1.000,1.045)"><text x="0" y="0" font-size="39.50" font-family="Liberation Sans" fill="#000">500</text></g>
<g transform="translate(38.30,1759.10) rotate(-90)"><g transform="translate(0,0.00) scale(1,1.030)"><text x="-1.82" y="0.00" font-size="40.00" letter-spacing="0.290" font-family="Liberation Sans" fill="#000" xml:space="preserve">Si-Ge TBC </text><text x="205.55" y="0.00" font-size="40.00" letter-spacing="0.290" font-family="Liberation Sans" font-weight="bold" fill="#000" xml:space="preserve">(</text><text x="219.16" y="0.00" font-size="40.00" letter-spacing="0.290" font-family="Liberation Sans" fill="#000" xml:space="preserve">MW m</text><text x="335.83" y="-17.00" font-size="27.00" letter-spacing="0.290" font-family="Liberation Sans" fill="#000" xml:space="preserve">-2</text><text x="360.42" y="0.00" font-size="40.00" letter-spacing="0.290" font-family="Liberation Sans" fill="#000" xml:space="preserve">K</text><text x="387.39" y="-17.00" font-size="27.00" letter-spacing="0.290" font-family="Liberation Sans" fill="#000" xml:space="preserve">-1</text><text x="411.97" y="0.00" font-size="40.00" letter-spacing="0.290" font-family="Liberation Sans" font-weight="bold" fill="#000" xml:space="preserve">)</text></g></g>
<g transform="translate(8.49,1084.30) scale(0.840,1)"><text x="0" y="0" font-size="52.00" font-family="Liberation Sans" font-weight="bold">c</text></g>
</svg></body></html>
